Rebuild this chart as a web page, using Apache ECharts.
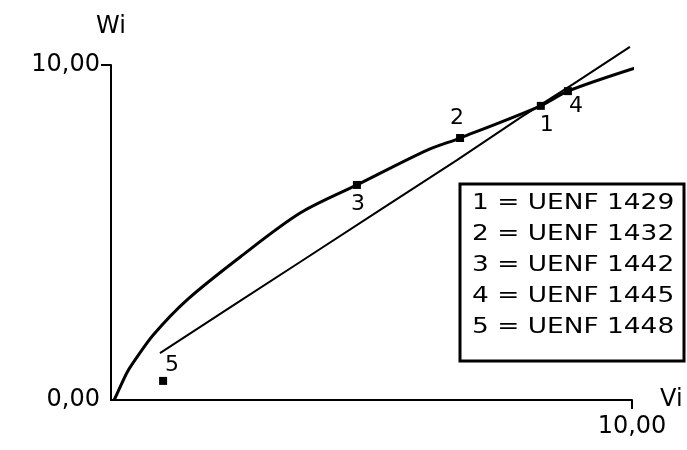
<!DOCTYPE html>
<html>
<head>
<meta charset="utf-8">
<script src="https://cdn.jsdelivr.net/npm/echarts@6/dist/echarts.min.js"></script>
<style>
  html, body { margin: 0; padding: 0; background: #fff; }
  #chart { width: 687px; height: 450px; }
</style>
</head>
<body>
<div id="chart"></div>
<script>
// curva superior (concava)
const upperX = [0.06, 0.15, 0.30, 0.42, 0.81, 1.46, 2.48, 3.63, 4.72, 6.07, 6.70, 8.25, 8.77, 10.06];
const upperY = [0.00, 0.30, 0.80, 1.10, 1.94, 2.99, 4.27, 5.58, 6.42, 7.46, 7.82, 8.78, 9.22, 9.91];

// reta inferior
const lowerX = [0.94, 2.42, 3.63, 5.16, 6.64, 7.85, 8.87, 9.96];
const lowerY = [1.40, 2.90, 4.12, 5.67, 7.16, 8.42, 9.43, 10.54];

// pontos numerados
const pointIds = ['1', '2', '3', '4', '5'];
const pointX = [8.25, 6.70, 4.72, 8.77, 1.00];
const pointY = [8.78, 7.82, 6.42, 9.22, 0.57];
const labelOffsets = [[6, 19], [-3, -20], [1, 19], [8, 15], [9, -16]];

// legenda
const legendNames = ['UENF 1429', 'UENF 1432', 'UENF 1442', 'UENF 1445', 'UENF 1448'];

const fmt = v => v.toFixed(2).replace('.', ',');
const zip = (xs, ys) => xs.map((x, i) => [x, ys[i]]);
const FONT = 'DejaVu Sans';

const chart = echarts.init(document.getElementById('chart'));

const legendGraphics = [{
  type: 'rect',
  shape: { x: 460, y: 184, width: 224, height: 177 },
  style: { fill: '#fff', stroke: '#000', lineWidth: 3 },
  z: 100
}].concat(pointIds.map((id, i) => ({
  type: 'text',
  x: 472,
  y: 203 + i * 31,
  scaleX: 1.2,
  style: {
    text: id + ' = ' + legendNames[i],
    font: '22px "' + FONT + '"',
    fill: '#000',
    verticalAlign: 'middle'
  },
  z: 101
})));

chart.setOption({
  animation: false,
  textStyle: { fontFamily: FONT },
  grid: { left: 111, top: 65, right: 55, bottom: 50, containLabel: false },
  xAxis: {
    type: 'value',
    min: 0, max: 10, interval: 10,
    name: 'Vi',
    nameLocation: 'end',
    nameGap: 28,
    nameTextStyle: { fontSize: 24, color: '#000', verticalAlign: 'middle', padding: [0, 0, 16, 0] },
    axisLine: { show: true, lineStyle: { color: '#000', width: 2 } },
    axisTick: { show: true, length: 9, lineStyle: { color: '#000', width: 2 }, customValues: [10] },
    axisLabel: { fontSize: 24, color: '#000', margin: 15, formatter: fmt, customValues: [10] },
    splitLine: { show: false }
  },
  yAxis: {
    type: 'value',
    min: 0, max: 10, interval: 10,
    name: 'Wi',
    nameLocation: 'end',
    nameGap: 26,
    nameTextStyle: { fontSize: 24, color: '#000', align: 'center' },
    axisLine: { show: true, lineStyle: { color: '#000', width: 2 } },
    axisTick: { show: true, length: 10, lineStyle: { color: '#000', width: 2 }, customValues: [10] },
    axisLabel: { fontSize: 24, color: '#000', margin: 11, formatter: fmt },
    splitLine: { show: false }
  },
  series: [
    {
      type: 'line',
      data: zip(upperX, upperY),
      smooth: 0.3,
      clip: false,
      symbol: 'none',
      lineStyle: { color: '#000', width: 3 }
    },
    {
      type: 'line',
      data: zip(lowerX, lowerY),
      clip: false,
      symbol: 'none',
      lineStyle: { color: '#000', width: 2 }
    },
    {
      type: 'scatter',
      symbol: 'rect',
      symbolSize: 8,
      itemStyle: { color: '#000', opacity: 1 },
      data: pointIds.map((id, i) => ({
        value: [pointX[i], pointY[i]],
        label: { offset: labelOffsets[i] }
      })),
      label: {
        show: true,
        position: 'inside',
        formatter: p => pointIds[p.dataIndex],
        fontSize: 22,
        color: '#000',
        opacity: 1,
        textBorderWidth: 0
      }
    }
  ],
  graphic: legendGraphics
});
</script>
</body>
</html>
